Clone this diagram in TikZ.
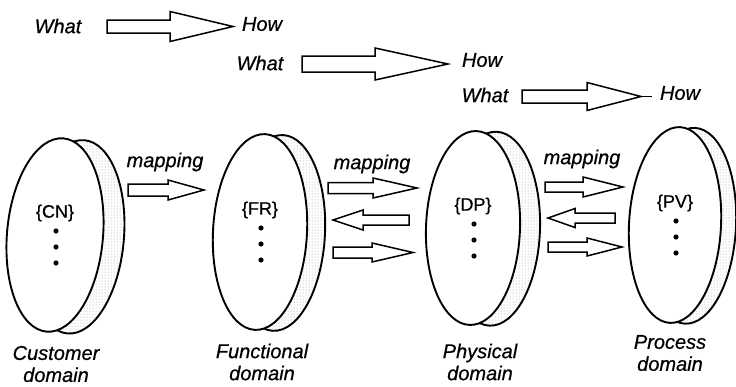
\documentclass[tikz,border=0pt]{standalone}
\usepackage{fontspec}
\setmainfont{Liberation Sans}[UprightFeatures={FakeBold=0.6}, ItalicFeatures={FakeBold=0.6}]
\usetikzlibrary{patterns}

% hollow block arrow: tail x, head base x, tip x, centre y, half body height, half head height
\newcommand{\blockarr}[6]{%
  \draw[arrowline] (#1,#4-#5) -- (#2,#4-#5) -- (#2,#4-#6) -- (#3,#4)
    -- (#2,#4+#6) -- (#2,#4+#5) -- (#1,#4+#5) -- cycle;}

% a domain disk: centre x, centre y, tilt, x radius, y radius, rim offset, set label, name
\newcommand{\domaindisk}[8]{%
  \begin{scope}[shift={(#1,#2)}, rotate=#3]
    \fill[white] (#6,0) ellipse [x radius=#4, y radius=#5];
    \fill[pattern=dots, pattern color=gray!80] (#6,0) ellipse [x radius=#4, y radius=#5];
    \draw[diskline] (#6,0) ellipse [x radius=#4, y radius=#5];
    \filldraw[diskline, fill=white] (0,0) ellipse [x radius=#4, y radius=#5];
  \end{scope}
  \node[setlabel] (#8) at (#1,#2-22) {#7};
  \fill (#1+1,#2-4) circle (2.6) (#1+1,#2+12) circle (2.6) (#1+1,#2+28) circle (2.6);}

\tikzset{
  arrowline/.style={line width=1.5pt, draw=black, line join=miter},
  diskline/.style={line width=1.9pt, draw=black},
  lab/.style={font=\fontsize{20}{22}\selectfont\itshape, inner sep=0pt, text=black},
  domlab/.style={lab, align=center},
  setlabel/.style={font=\fontsize{18}{20}\selectfont, inner sep=0pt},
}

\begin{document}
\begin{tikzpicture}[x=1pt, y=-1pt]
  \useasboundingbox (0,0) rectangle (736,386);

  % What -> How staircase
  \node[lab] (what1) at (58,26) {What};
  \blockarr{107}{170}{233}{26.5}{6.5}{15}
  \node[lab] (how1) at (262,24) {How};

  \node[lab] (what2) at (260,63) {What};
  \blockarr{302}{375}{448}{64}{8}{16}
  \node[lab] (how2) at (482,60) {How};

  \node[lab] (what3) at (485,95) {What};
  \blockarr{522}{587}{641}{96.5}{6.5}{14}
  \draw[arrowline] (641,96.5) -- (652,96.5);
  \node[lab] (how3) at (680,93) {How};

  % the four domains
  \domaindisk{55}{235}{-5}{48}{97}{21}{\{CN\}}{cn}
  \domaindisk{260}{232}{-3}{47}{98}{18}{\{FR\}}{fr}
  \domaindisk{473}{228}{-2}{47}{97}{20}{\{DP\}}{dp}
  \domaindisk{675}{225}{-3}{46}{98}{15}{\{PV\}}{pv}

  % mappings between the domains
  \node[lab] (map1) at (165,162) {mapping};
  \blockarr{128}{168}{204}{190}{6}{10}

  \node[lab] (map2) at (372,164) {mapping};
  \blockarr{328}{373}{417}{188}{5.5}{10}
  \blockarr{409}{363}{333}{220}{5}{10}
  \blockarr{333}{372}{413}{252.5}{5.5}{9.5}

  \node[lab] (map3) at (582,159) {mapping};
  \blockarr{545}{583}{623}{187}{5}{10}
  \blockarr{615}{575}{548}{218}{5}{9.5}
  \blockarr{548}{587}{622}{247}{5}{9}

  % domain names
  \node[domlab] (custd) at (56,364) {Customer\\domain};
  \node[domlab] (funcd) at (262,362) {Functional\\domain};
  \node[domlab] (physd) at (480,362) {Physical\\domain};
  \node[domlab] (procd) at (670,353) {Process\\domain};
\end{tikzpicture}
\end{document}
